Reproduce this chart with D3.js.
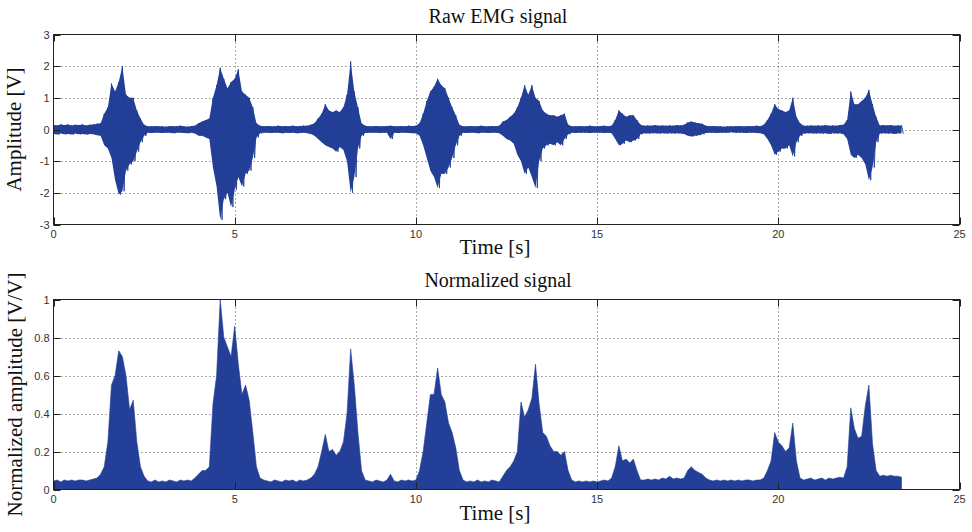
<!DOCTYPE html>
<html><head><meta charset="utf-8">
<script src="https://cdn.jsdelivr.net/npm/d3@7"></script>
<style>
html,body{margin:0;padding:0;background:#fff;}
svg{display:block;}
</style></head>
<body>
<svg id="chart" width="972" height="532"></svg>
<script>
// ---- data (0.1 s bins starting at t = 0) ----
const timeStep = 0.1;
const xTicks = [0, 5, 10, 15, 20, 25];
const rawTicks = [-3, -2, -1, 0, 1, 2, 3];
const normTicks = [0, 0.2, 0.4, 0.6, 0.8, 1];
const normTickLabels = ["0", "0.2", "0.4", "0.6", "0.8", "1"];

// positive envelope of the raw EMG per bin [V]
const rawHigh = [
 0.15,0.13,0.16,0.14,0.16,0.13,0.15,0.14,0.16,0.13,
 0.15,0.16,0.18,0.2,0.5,0.7,1.45,1.2,1.5,2.0,
 1.1,1.0,1.0,0.6,0.35,0.15,0.1,0.1,0.11,0.1,
 0.1,0.09,0.11,0.1,0.1,0.12,0.1,0.09,0.11,0.12,
 0.2,0.25,0.3,0.35,1.0,1.4,1.95,1.6,1.3,1.5,
 1.6,1.9,1.2,1.1,1.0,0.7,0.2,0.12,0.1,0.11,
 0.1,0.1,0.12,0.1,0.11,0.1,0.12,0.1,0.11,0.12,
 0.12,0.15,0.2,0.35,0.5,0.8,0.6,0.55,0.6,0.55,
 0.7,1.1,2.15,1.2,0.7,0.2,0.12,0.1,0.1,0.11,
 0.1,0.1,0.11,0.12,0.1,0.1,0.11,0.1,0.12,0.11,
 0.12,0.2,0.5,0.9,1.2,1.35,1.6,1.4,1.3,1.0,
 0.7,0.45,0.15,0.1,0.1,0.11,0.1,0.1,0.12,0.1,
 0.1,0.11,0.1,0.12,0.25,0.3,0.4,0.5,0.7,1.0,
 1.4,1.1,1.4,1.0,0.9,0.6,0.5,0.45,0.45,0.4,
 0.45,0.5,0.15,0.1,0.1,0.11,0.1,0.1,0.12,0.1,
 0.1,0.11,0.12,0.1,0.12,0.3,0.6,0.5,0.4,0.45,
 0.45,0.3,0.15,0.12,0.13,0.12,0.14,0.12,0.13,0.12,
 0.13,0.12,0.14,0.13,0.15,0.22,0.25,0.22,0.2,0.18,
 0.12,0.1,0.11,0.1,0.1,0.09,0.1,0.1,0.1,0.11,
 0.1,0.1,0.11,0.1,0.12,0.1,0.15,0.3,0.5,0.8,
 0.65,0.6,0.55,0.6,1.0,0.4,0.2,0.12,0.12,0.13,
 0.12,0.13,0.12,0.14,0.12,0.13,0.12,0.14,0.15,0.3,
 1.2,0.8,0.8,0.9,1.0,1.25,0.8,0.4,0.13,0.14,
 0.13,0.14,0.12,0.13,0.13
];
// negative envelope of the raw EMG per bin [V]
const rawLow = [
 -0.14,-0.16,-0.13,-0.15,-0.14,-0.16,-0.13,-0.15,-0.14,-0.16,
 -0.14,-0.15,-0.18,-0.2,-0.5,-0.6,-0.9,-1.6,-2.05,-1.95,
 -1.3,-1.1,-1.0,-0.7,-0.4,-0.2,-0.1,-0.11,-0.1,-0.1,
 -0.11,-0.1,-0.1,-0.12,-0.1,-0.1,-0.11,-0.12,-0.1,-0.13,
 -0.2,-0.2,-0.25,-0.3,-1.2,-1.8,-2.85,-2.2,-2.0,-2.45,
 -1.9,-1.5,-1.8,-1.4,-1.3,-0.9,-0.25,-0.12,-0.1,-0.1,
 -0.11,-0.1,-0.1,-0.12,-0.1,-0.11,-0.1,-0.12,-0.11,-0.1,
 -0.12,-0.14,-0.2,-0.3,-0.4,-0.5,-0.55,-0.6,-0.7,-0.55,
 -0.65,-1.0,-2.0,-1.5,-0.6,-0.2,-0.11,-0.1,-0.1,-0.1,
 -0.11,-0.1,-0.1,-0.3,-0.1,-0.11,-0.1,-0.1,-0.11,-0.12,
 -0.12,-0.2,-0.5,-0.9,-1.3,-1.5,-1.85,-1.4,-1.4,-1.2,
 -0.9,-0.5,-0.2,-0.1,-0.11,-0.1,-0.1,-0.12,-0.1,-0.1,
 -0.11,-0.1,-0.1,-0.12,-0.2,-0.3,-0.35,-0.45,-0.8,-1.0,
 -1.4,-1.2,-1.5,-1.85,-1.0,-0.6,-0.5,-0.45,-0.5,-0.4,
 -0.5,-0.3,-0.15,-0.1,-0.11,-0.1,-0.1,-0.1,-0.11,-0.1,
 -0.1,-0.1,-0.11,-0.1,-0.12,-0.3,-0.5,-0.45,-0.35,-0.4,
 -0.35,-0.3,-0.15,-0.12,-0.13,-0.12,-0.12,-0.13,-0.12,-0.13,
 -0.12,-0.13,-0.12,-0.13,-0.14,-0.2,-0.22,-0.2,-0.18,-0.15,
 -0.11,-0.1,-0.1,-0.11,-0.1,-0.1,-0.1,-0.09,-0.1,-0.1,
 -0.1,-0.11,-0.1,-0.1,-0.11,-0.12,-0.15,-0.3,-0.5,-0.8,
 -0.7,-0.6,-0.6,-0.5,-0.85,-0.4,-0.2,-0.13,-0.12,-0.12,
 -0.13,-0.12,-0.13,-0.12,-0.14,-0.12,-0.13,-0.12,-0.15,-0.3,
 -0.8,-0.9,-0.8,-0.9,-1.1,-1.6,-1.2,-0.4,-0.13,-0.12,
 -0.13,-0.12,-0.14,-0.12,-0.13
];
// normalized amplitude per bin [V/V]
const normPeak = [
 0.045,0.05,0.04,0.05,0.045,0.05,0.045,0.05,0.05,0.045,
 0.05,0.055,0.06,0.08,0.12,0.25,0.55,0.6,0.73,0.7,
 0.6,0.42,0.47,0.25,0.12,0.07,0.045,0.04,0.05,0.04,
 0.045,0.04,0.05,0.045,0.04,0.05,0.045,0.05,0.045,0.06,
 0.08,0.1,0.1,0.12,0.45,0.6,1.0,0.8,0.75,0.7,
 0.86,0.66,0.5,0.55,0.47,0.3,0.12,0.06,0.05,0.045,
 0.04,0.05,0.045,0.04,0.05,0.045,0.05,0.04,0.05,0.045,
 0.05,0.06,0.08,0.12,0.2,0.29,0.2,0.21,0.18,0.2,
 0.25,0.4,0.74,0.55,0.3,0.1,0.05,0.045,0.04,0.05,
 0.045,0.04,0.05,0.08,0.045,0.04,0.05,0.045,0.05,0.045,
 0.05,0.1,0.2,0.35,0.5,0.5,0.64,0.5,0.46,0.35,
 0.3,0.22,0.1,0.05,0.04,0.045,0.04,0.05,0.04,0.045,
 0.04,0.05,0.045,0.04,0.07,0.1,0.12,0.15,0.2,0.46,
 0.38,0.42,0.48,0.66,0.45,0.3,0.28,0.23,0.2,0.2,
 0.18,0.2,0.1,0.05,0.04,0.045,0.04,0.045,0.04,0.045,
 0.04,0.045,0.05,0.045,0.06,0.12,0.23,0.15,0.16,0.14,
 0.16,0.1,0.05,0.05,0.055,0.05,0.055,0.05,0.06,0.055,
 0.07,0.055,0.06,0.055,0.06,0.1,0.12,0.1,0.09,0.08,
 0.06,0.05,0.045,0.05,0.045,0.05,0.045,0.05,0.045,0.05,
 0.045,0.05,0.05,0.045,0.05,0.05,0.06,0.1,0.15,0.3,
 0.25,0.23,0.2,0.22,0.35,0.15,0.06,0.05,0.055,0.06,
 0.05,0.055,0.06,0.05,0.06,0.055,0.06,0.065,0.06,0.12,
 0.43,0.32,0.27,0.28,0.44,0.55,0.24,0.1,0.07,0.075,
 0.07,0.075,0.07,0.07,0.065
];

// ---- layout ----
const svg = d3.select("#chart");
const blue = "#233f97";
const serif = "'Liberation Serif','Times New Roman',serif";
const sans = "'Liberation Sans',Arial,sans-serif";
const xL = 53.5, xR = 959.5;
const panels = [
  {top: 34.5, bottom: 224.5, domain: [-3, 3], ticks: rawTicks, labels: rawTicks.map(String),
   title: "Raw EMG signal", titleY: 23, ylabel: "Amplitude [V]", xlabelY: 254, ylabelX: 21},
  {top: 299.5, bottom: 489.5, domain: [0, 1], ticks: normTicks, labels: normTickLabels,
   title: "Normalized signal", titleY: 287, ylabel: "Normalized amplitude [V/V]", xlabelY: 520, ylabelX: 22}
];
const x = d3.scaleLinear().domain([0, 25]).range([xL, xR]);

panels.forEach((p, pi) => {
  const y = d3.scaleLinear().domain(p.domain).range([p.bottom, p.top]);
  const g = svg.append("g");
  // grid
  g.append("g").selectAll("line").data(xTicks.slice(1, -1)).join("line")
    .attr("x1", d => Math.round(x(d)) + 0.5).attr("x2", d => Math.round(x(d)) + 0.5)
    .attr("y1", p.top).attr("y2", p.bottom)
    .attr("stroke", "#555").attr("stroke-width", 1).attr("stroke-dasharray", "1,3");
  g.append("g").selectAll("line").data(p.ticks.slice(1, -1)).join("line")
    .attr("y1", d => Math.round(y(d)) + 0.5).attr("y2", d => Math.round(y(d)) + 0.5)
    .attr("x1", xL).attr("x2", xR)
    .attr("stroke", "#555").attr("stroke-width", 1).attr("stroke-dasharray", "1,3");

  // clip
  const cid = "clip" + pi;
  svg.append("clipPath").attr("id", cid).append("rect")
    .attr("x", xL).attr("y", p.top).attr("width", xR - xL).attr("height", p.bottom - p.top);
  const sg = g.append("g").attr("clip-path", `url(#${cid})`);

  if (pi === 0) {
    const pts = [];
    rawHigh.forEach((h, i) => {
      const t = i * timeStep;
      pts.push([t, h]);
      pts.push([t + timeStep / 2, rawLow[i]]);
    });
    const area = d3.area().x((d, i) => x(i * timeStep)).y0((d, i) => y(rawLow[i])).y1(d => y(d));
    sg.append("path").datum(rawHigh).attr("d", area)
      .attr("fill", blue);
    const line = d3.line().x(d => x(d[0])).y(d => y(d[1]));
    sg.append("path").datum(pts).attr("d", line)
      .attr("fill", "none").attr("stroke", blue).attr("stroke-width", 0.9);
  } else {
    const area = d3.area().x((d, i) => x(i * timeStep)).y0(y(0)).y1(d => y(d));
    sg.append("path").datum(normPeak).attr("d", area)
      .attr("fill", blue).attr("stroke", blue).attr("stroke-width", 0.6);
  }

  // frame
  g.append("rect").attr("x", xL).attr("y", p.top).attr("width", xR - xL).attr("height", p.bottom - p.top)
    .attr("fill", "none").attr("stroke", "#222").attr("stroke-width", 1);
  // ticks (inside, all four sides)
  const tl = 7;
  xTicks.forEach(d => {
    const xx = Math.round(x(d)) + 0.5;
    g.append("line").attr("x1", xx).attr("x2", xx).attr("y1", p.bottom).attr("y2", p.bottom - tl).attr("stroke", "#222");
    g.append("line").attr("x1", xx).attr("x2", xx).attr("y1", p.top).attr("y2", p.top + tl).attr("stroke", "#222");
  });
  p.ticks.forEach(d => {
    const yy = Math.round(y(d)) + 0.5;
    g.append("line").attr("x1", xL).attr("x2", xL + tl).attr("y1", yy).attr("y2", yy).attr("stroke", "#222");
    g.append("line").attr("x1", xR).attr("x2", xR - tl).attr("y1", yy).attr("y2", yy).attr("stroke", "#222");
  });
  // tick labels
  g.append("g").selectAll("text").data(xTicks).join("text")
    .attr("x", d => x(d)).attr("y", p.bottom + 13)
    .attr("text-anchor", "middle").attr("font-family", sans).attr("font-size", 11).attr("fill", "#333")
    .text(d => d);
  g.append("g").selectAll("text").data(p.ticks).join("text")
    .attr("x", xL - 4).attr("y", d => y(d) + 4)
    .attr("text-anchor", "end").attr("font-family", sans).attr("font-size", 11).attr("fill", "#333")
    .text((d, i) => p.labels[i]);
  // title and labels
  svg.append("text").attr("x", 498).attr("y", p.titleY).attr("text-anchor", "middle")
    .attr("font-family", serif).attr("font-size", 20).attr("fill", "#111").text(p.title);
  svg.append("text").attr("x", 495).attr("y", p.xlabelY).attr("text-anchor", "middle")
    .attr("font-family", serif).attr("font-size", 21).attr("fill", "#111").text("Time [s]");
  svg.append("text").attr("transform", `translate(${p.ylabelX},${(p.top + p.bottom) / 2}) rotate(-90)`)
    .attr("text-anchor", "middle").attr("font-family", serif).attr("font-size", 21).attr("fill", "#111")
    .text(p.ylabel);
});
</script>
</body></html>
